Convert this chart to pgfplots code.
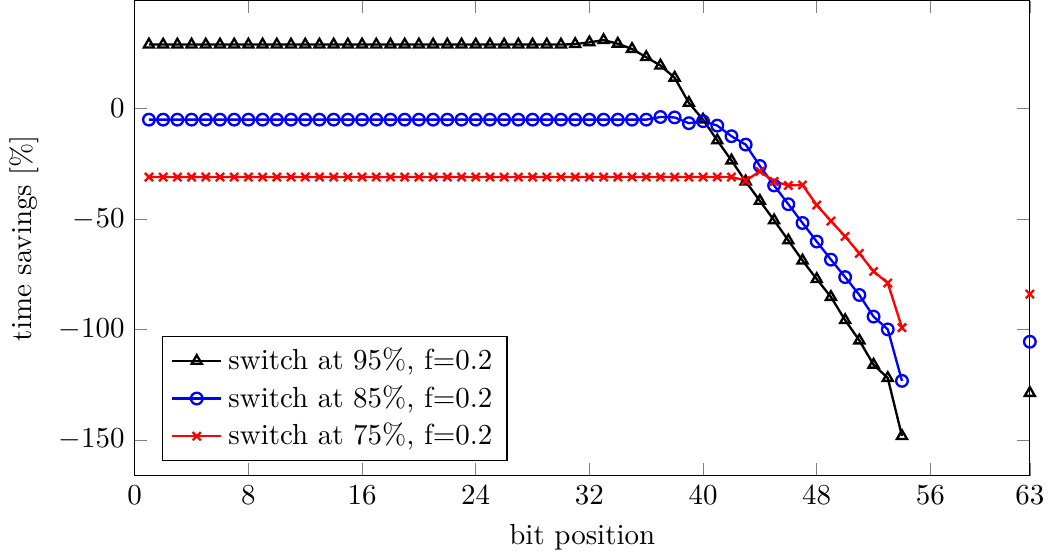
\documentclass[border=0pt]{standalone}
\usepackage{pgfplots}
\pgfplotsset{compat=1.18}
\begin{document}
\begin{tikzpicture}
\begin{axis}[
  scale only axis,
  width=309pt, height=164pt,
  xmin=0, xmax=63,
  xtick={0,8,16,24,32,40,48,56,63},
  ytick={-150,-100,-50,0},
  xlabel={bit position},
  ylabel={time savings [\%]},
  legend pos=south west,
  legend cell align=left,
  unbounded coords=jump,
]
\addplot[black, thick, mark=triangle, mark options={solid, thick}] coordinates {
(1,29) (2,29) (3,29) (4,29) (5,29) (6,29) (7,29) (8,29) (9,29) (10,29)
(11,29) (12,29) (13,29) (14,29) (15,29) (16,29) (17,29) (18,29) (19,29) (20,29)
(21,29) (22,29) (23,29) (24,29) (25,29) (26,29) (27,29) (28,29) (29,29) (30,29)
(31,29.2) (32,30) (33,31) (34,29.4) (35,27) (36,23.3) (37,19.5) (38,14) (39,2.6) (40,-5)
(41,-14.4) (42,-23.5) (43,-33) (44,-41.8) (45,-50.6) (46,-59.7) (47,-68.8) (48,-77.2) (49,-85.3) (50,-95.8)
(51,-105) (52,-116) (53,-122) (54,-148.3) (55,nan) (63,-128.8)
};
\addlegendentry{switch at 95\%, f=0.2}
\addplot[blue, thick, mark=o, mark options={solid, thick}] coordinates {
(1,-5) (2,-5) (3,-5) (4,-5) (5,-5) (6,-5) (7,-5) (8,-5) (9,-5) (10,-5)
(11,-5) (12,-5) (13,-5) (14,-5) (15,-5) (16,-5) (17,-5) (18,-5) (19,-5) (20,-5)
(21,-5) (22,-5) (23,-5) (24,-5) (25,-5) (26,-5) (27,-5) (28,-5) (29,-5) (30,-5)
(31,-5) (32,-5) (33,-5) (34,-5) (35,-5) (36,-5) (37,-3.8) (38,-4) (39,-6.6) (40,-5.7)
(41,-7.7) (42,-12.5) (43,-16.3) (44,-26) (45,-34.8) (46,-43.3) (47,-51.8) (48,-60.2) (49,-68.4) (50,-76.3)
(51,-84.4) (52,-94.2) (53,-100) (54,-123.3) (55,nan) (63,-105.6)
};
\addlegendentry{switch at 85\%, f=0.2}
\addplot[red, thick, mark=x, mark options={solid, thick}] coordinates {
(1,-31) (2,-31) (3,-31) (4,-31) (5,-31) (6,-31) (7,-31) (8,-31) (9,-31) (10,-31)
(11,-31) (12,-31) (13,-31) (14,-31) (15,-31) (16,-31) (17,-31) (18,-31) (19,-31) (20,-31)
(21,-31) (22,-31) (23,-31) (24,-31) (25,-31) (26,-31) (27,-31) (28,-31) (29,-31) (30,-31)
(31,-31) (32,-31) (33,-31) (34,-31) (35,-31) (36,-31) (37,-31) (38,-31) (39,-31) (40,-31)
(41,-31) (42,-31) (43,-32.6) (44,-28.4) (45,-33) (46,-34.8) (47,-34.6) (48,-43.7) (49,-50.9) (50,-57.9)
(51,-65.6) (52,-73.7) (53,-79) (54,-99.2) (55,nan) (63,-84)
};
\addlegendentry{switch at 75\%, f=0.2}
\end{axis}
\end{tikzpicture}
\end{document}
